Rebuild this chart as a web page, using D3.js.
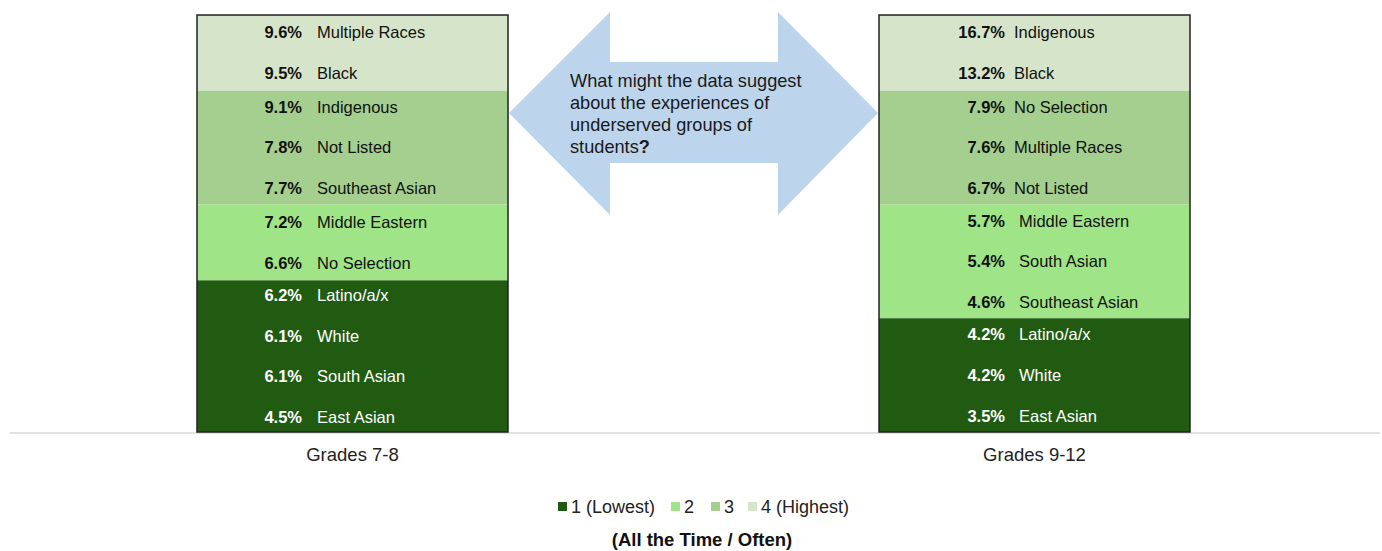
<!DOCTYPE html>
<html>
<head>
<meta charset="utf-8">
<script src="https://cdn.jsdelivr.net/npm/d3@7"></script>
<style>
	body { margin: 0; background: #fff; }
	text { font-family: "Liberation Sans", Arial, sans-serif; }
</style>
</head>
<body>
<div id="chart-area"></div>
<script>
// Data
var grades = ["Grades 7-8", "Grades 9-12"];
var levelNames = ["1 (Lowest)", "2", "3", "4 (Highest)"];
var levelColors = ["#205b11", "#9fe587", "#a4cf8e", "#d6e5c9"];

var groups78 = ["Multiple Races", "Black", "Indigenous", "Not Listed", "Southeast Asian",
	"Middle Eastern", "No Selection", "Latino/a/x", "White", "South Asian", "East Asian"];
var values78 = [9.6, 9.5, 9.1, 7.8, 7.7, 7.2, 6.6, 6.2, 6.1, 6.1, 4.5];
var levels78 = [4, 4, 3, 3, 3, 2, 2, 1, 1, 1, 1];

var groups912 = ["Indigenous", "Black", "No Selection", "Multiple Races", "Not Listed",
	"Middle Eastern", "South Asian", "Southeast Asian", "Latino/a/x", "White", "East Asian"];
var values912 = [16.7, 13.2, 7.9, 7.6, 6.7, 5.7, 5.4, 4.6, 4.2, 4.2, 3.5];
var levels912 = [4, 4, 3, 3, 3, 2, 2, 2, 1, 1, 1];

var question = ["What might the data suggest", "about the experiences of", "underserved groups of", "students"];

// Setup the canvas
var width = 1382, height = 551;
var svg = d3.select("#chart-area").append("svg")
	.attr("width", width)
	.attr("height", height);

var barTop = 15, barBase = 432;
var labelStep = 40.6;

var x = d3.scaleBand()
	.domain(grades)
	.range([11.5, 1375.5])
	.paddingInner(0.544)
	.paddingOuter(0.272);

var bars = [
	{ grade: grades[0], groups: groups78, values: values78, levels: levels78, valEnd: 105, nameStart: [120, 120] },
	{ grade: grades[1], groups: groups912, values: values912, levels: levels912, valEnd: 126, nameStart: [135, 140] }
];

// Baseline
svg.append("line")
	.attr("x1", 10).attr("x2", 1380)
	.attr("y1", barBase + 1).attr("y2", barBase + 1)
	.attr("stroke", "#e2e2e2")
	.attr("stroke-width", 2);

bars.forEach(function(b) {
	var n = b.groups.length;
	var y = d3.scaleLinear().domain([0, n]).range([barTop, barBase]);
	var x0 = x(b.grade);
	var g = svg.append("g");

	// level bands (contiguous runs)
	var runs = [];
	b.levels.forEach(function(l, i) {
		if (runs.length && runs[runs.length - 1].level === l) runs[runs.length - 1].end = i + 1;
		else runs.push({ level: l, start: i, end: i + 1 });
	});
	g.selectAll("rect.band").data(runs).enter()
		.append("rect")
		.attr("class", "band")
		.attr("x", x0)
		.attr("width", x.bandwidth())
		.attr("y", function(d) { return y(d.start); })
		.attr("height", function(d) { return y(d.end) - y(d.start); })
		.attr("fill", function(d) { return levelColors[d.level - 1]; });

	g.append("rect")
		.attr("x", x0).attr("y", barTop)
		.attr("width", x.bandwidth())
		.attr("height", barBase - barTop)
		.attr("fill", "none")
		.attr("stroke", "#222")
		.attr("stroke-width", 1.5);

	// label rows, spread around the middle of their band
	var rows = b.groups.map(function(name, i) {
		var r = runs.find(function(run) { return i >= run.start && i < run.end; });
		var mid = (y(r.start) + y(r.end)) / 2;
		var k = i - r.start - (r.end - r.start - 1) / 2;
		return { name: name, value: b.values[i], level: b.levels[i], ly: mid + k * labelStep };
	});

	g.selectAll("text.val").data(rows).enter()
		.append("text")
		.attr("x", x0 + b.valEnd)
		.attr("y", function(d) { return d.ly; })
		.attr("dy", "0.35em")
		.attr("text-anchor", "end")
		.attr("font-size", "16.5px")
		.attr("font-weight", "bold")
		.attr("fill", function(d) { return d.level === 1 ? "#fff" : "#111"; })
		.text(function(d) { return d.value.toFixed(1) + "%"; });

	g.selectAll("text.name").data(rows).enter()
		.append("text")
		.attr("x", function(d) { return x0 + b.nameStart[d.level <= 2 ? 1 : 0]; })
		.attr("y", function(d) { return d.ly; })
		.attr("dy", "0.35em")
		.attr("font-size", "16.5px")
		.attr("fill", function(d) { return d.level === 1 ? "#fff" : "#111"; })
		.text(function(d) { return d.name; });

	svg.append("text")
		.attr("x", x0 + x.bandwidth() / 2)
		.attr("y", 455)
		.attr("dy", "0.35em")
		.attr("text-anchor", "middle")
		.attr("font-size", "18.5px")
		.attr("fill", "#222")
		.text(b.grade);
});

// Double arrow between bars
var aL = x(grades[0]) + x.bandwidth() + 1, aR = x(grades[1]) - 1, aMid = 113;
var arrow = [
	[aL, aMid], [610, 12], [610, 62], [778, 62], [778, 12], [aR, aMid],
	[778, 215], [778, 163], [610, 163], [610, 215]
];
svg.append("path")
	.attr("d", d3.line()(arrow) + "Z")
	.attr("fill", "#bdd5ec");

var q = svg.append("text")
	.attr("font-size", "18.2px")
	.attr("fill", "#1a1a1a");
q.selectAll("tspan").data(question).enter()
	.append("tspan")
	.attr("x", 570)
	.attr("y", function(d, i) { return 87 + i * 22; })
	.text(function(d) { return d; });
q.append("tspan")
	.attr("font-weight", "bold")
	.text("?");

// Legend
var legendX = [558, 671, 711, 748];
var legend = svg.append("g");
levelNames.forEach(function(name, i) {
	legend.append("rect")
		.attr("x", legendX[i]).attr("y", 502)
		.attr("width", 9).attr("height", 9)
		.attr("fill", levelColors[i]);
	legend.append("text")
		.attr("x", legendX[i] + 13)
		.attr("y", 507)
		.attr("dy", "0.35em")
		.attr("font-size", "18px")
		.attr("fill", "#222")
		.text(name);
});

svg.append("text")
	.attr("x", 702)
	.attr("y", 540)
	.attr("dy", "0.35em")
	.attr("text-anchor", "middle")
	.attr("font-size", "18.5px")
	.attr("font-weight", "bold")
	.attr("fill", "#111")
	.text("(All the Time / Often)");
</script>
</body>
</html>
